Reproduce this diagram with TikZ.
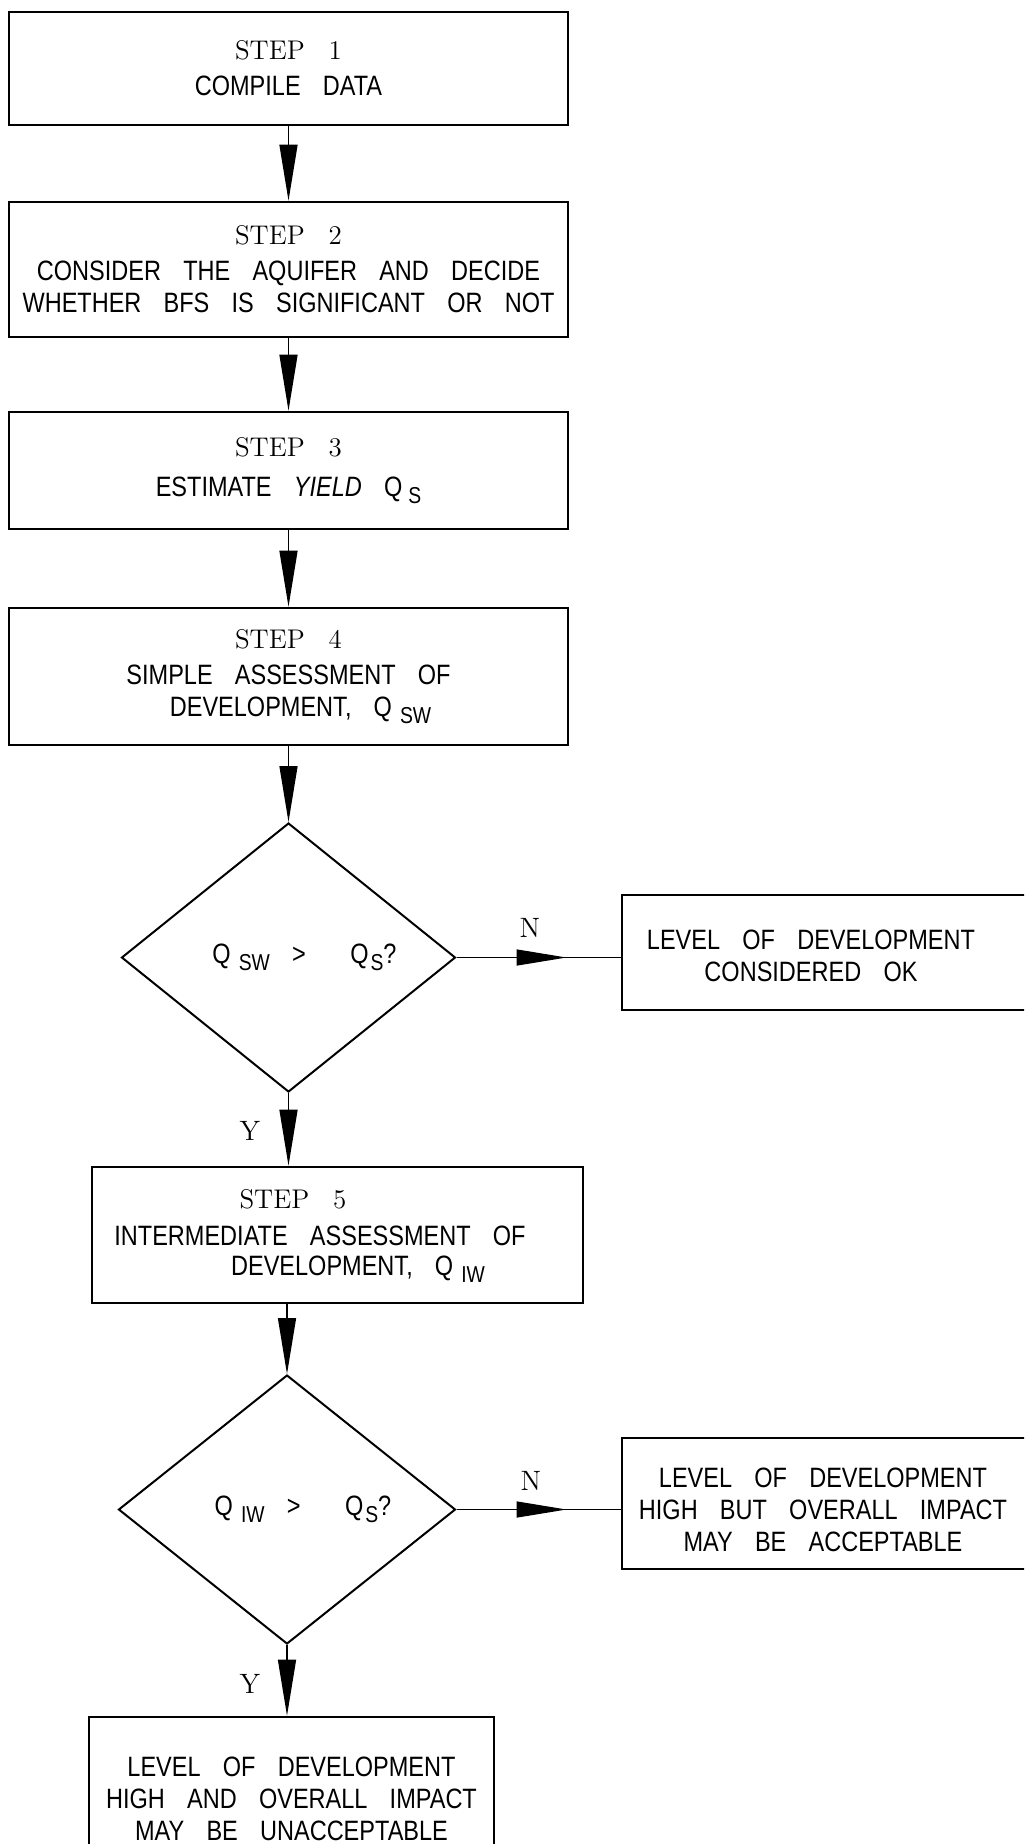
\documentclass[tikz,border=0pt]{standalone}
\usepackage{fontspec}
\usepackage{tikz}
\usetikzlibrary{shapes.geometric}
\usetikzlibrary{arrows.meta}
\usetikzlibrary{decorations.markings}

\newfontfamily\cadfont[FakeStretch=0.84,WordSpace=3.4]{Liberation Sans}
\newcommand{\steplab}[1]{{\rmfamily\fontsize{13.5}{15}\selectfont STEP\hspace{12pt}#1}}
\newcommand{\qsub}[2][4pt]{Q\hspace{#1}\raisebox{-0.5ex}{\fontsize{11.5}{11.5}\selectfont #2}}

\tikzset{
  stepbox/.style={draw, line width=1.3pt, inner sep=0pt, align=center,
    font=\cadfont\fontsize{14}{16}\selectfont},
  steptext/.style={inner sep=0pt, align=center, font=\cadfont\fontsize{14}{16}\selectfont},
  decide/.style={draw, diamond, line width=1pt, inner sep=0pt, minimum width=167pt,
    minimum height=134.5pt, font=\cadfont\fontsize{14}{16}\selectfont},
  flow/.style={line width=0.7pt, -{Triangle[length=28pt,width=9pt]}},
  sideflow/.style={line width=0.7pt, postaction={decorate},
    decoration={markings, mark=at position 0.67 with {\arrow{Triangle[length=25pt,width=8pt]}}}},
  yn/.style={inner sep=0pt, font=\rmfamily\fontsize{14}{14}\selectfont}
}

\begin{document}
\begin{tikzpicture}[x=0.5pt,y=-0.5pt]
  \useasboundingbox (0,0) rectangle (1024,1844);
  \clip (0,0) rectangle (1024,1844);

  % centres of the shapes
  \coordinate(c1) at (288.5,68.5);
  \coordinate(c2) at (288.5,269.5);
  \coordinate(c3) at (288.5,470.5);
  \coordinate(c4) at (288.5,676.5);
  \coordinate(c5) at (337.5,1235);
  \coordinate(q1) at (288.5,957.5);
  \coordinate(q2) at (287,1509.5);
  \coordinate(r1) at (851,952.5);
  \coordinate(r2) at (851,1503.5);
  \coordinate(r3) at (291.5,1799);

  % Draw the step boxes
  \node[stepbox, minimum width=279.5pt, minimum height=56.5pt] (s1) at (c1)
    {\steplab{1}\\[2pt] COMPILE DATA};
  \node[stepbox, minimum width=279.5pt, minimum height=67.5pt] (s2) at (c2)
    {\steplab{2}\\[2pt] CONSIDER THE AQUIFER AND DECIDE\\ WHETHER BFS IS SIGNIFICANT OR NOT};
  \node[stepbox, minimum width=279.5pt, minimum height=58.5pt] (s3) at (c3)
    {\steplab{3}\\[4pt] ESTIMATE \textit{YIELD} \qsub[3pt]{S}};
  \node[stepbox, minimum width=279.5pt, minimum height=68.5pt] (s4) at (c4)
    {\steplab{4}\\[2pt] SIMPLE ASSESSMENT OF\\ \hspace*{12pt}DEVELOPMENT, \qsub{SW}};
  \node[stepbox, minimum width=245.5pt, minimum height=68pt] (s5) at (c5) {};
  \node[steptext] (s5a) at (293,1199) {\steplab{5}};
  \node[steptext] (s5b) at (320,1236) {INTERMEDIATE ASSESSMENT OF};
  \node[steptext] (s5c) at (358,1269) {DEVELOPMENT, \qsub{IW}};

  % the two questions
  \node[decide] (d1) at (q1) {\hspace*{16pt}\qsub{SW} > \ \qsub[1pt]{S}?};
  \node[decide, minimum width=168.5pt] (d2) at (q2) {\hspace*{16pt}\qsub{IW} > \ \qsub[1pt]{S}?};

  % outcome boxes
  \node[stepbox, minimum width=229pt, minimum height=57.5pt] (ok) at (r1) {};
  \node[steptext] (okt) at (811,956) {LEVEL OF DEVELOPMENT\\ CONSIDERED OK};
  \node[stepbox, minimum width=229pt, minimum height=65.5pt] (acc) at (r2) {};
  \node[steptext] (acct) at (823,1510) {LEVEL OF DEVELOPMENT\\ HIGH BUT OVERALL IMPACT\\ MAY BE ACCEPTABLE};
  \node[stepbox, minimum width=202.5pt, minimum height=82pt] (res) at (r3)
    {LEVEL OF DEVELOPMENT\\ HIGH AND OVERALL IMPACT\\ MAY BE UNACCEPTABLE};

  % Draw the arrows
  \draw[flow] (s1) -- (s2);
  \draw[flow] (s2) -- (s3);
  \draw[flow] (s3) -- (s4);
  \draw[flow] (s4) -- (d1);
  \draw[flow] (d1.south) -- (d1.south |- s5.north);
  \draw[flow] (s5.south -| d2.north) -- (d2.north);
  \draw[flow] (d2.south) -- (d2.south |- res.north);
  \draw[sideflow] (d1.east) -- (d1.east -| ok.west);
  \draw[sideflow] (d2.east) -- (d2.east -| acc.west);

  % yes / no labels
  \node[yn] (n1) at (530,928) {N};
  \node[yn] (y1) at (250,1131) {Y};
  \node[yn] (n2) at (531,1481) {N};
  \node[yn] (y2) at (250,1684) {Y};
\end{tikzpicture}
\end{document}
